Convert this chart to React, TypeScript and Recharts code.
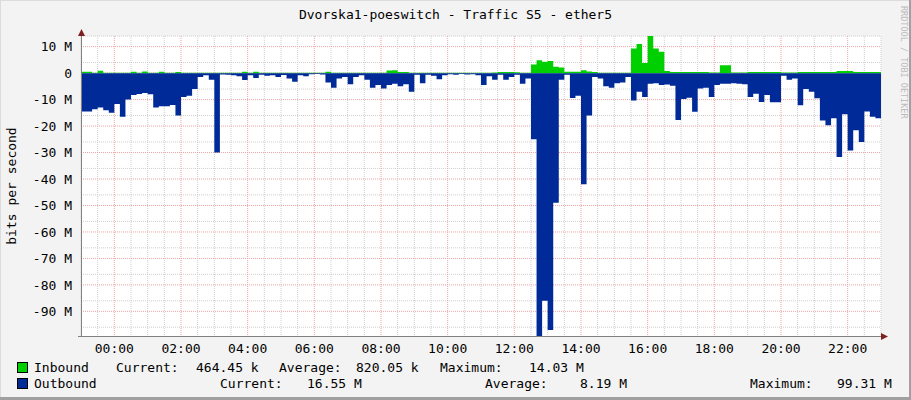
import React from 'react';
import { ComposedChart, Area, XAxis, YAxis, CartesianGrid } from 'recharts';

const MONO = '"DejaVu Sans Mono", monospace';

// 10-minute samples (Mbit/s) from 23:00 of the previous day to 23:00
const inbound = [
  0.5, 0.5, 0.1, 0.9, 0.1, 0.1,
  0.1, 0.1, 0.1, 0.5, 0.1, 0.6,
  0.1, 0.1, 0.5, 0.1, 0.1, 0.4,
  0.1, 0.1, 0.1, 0.1, 0.1, 0.1,
  0.1, 0.1, 0.1, 0.1, 0.1, 0.5,
  0.1, 0.5, 0.1, 0.1, 0.1, 0.1,
  0.1, 0.1, 0.1, 0.1, 0.1, 0.1,
  0.1, 0.1, 0.5, 0.1, 0.1, 0.1,
  0.1, 0.1, 0.1, 0.1, 0.1, 0.1,
  0.1, 1.0, 1.1, 0.4, 0.4, 0.1,
  0.1, 0.1, 0.1, 0.1, 0.1, 0.1,
  0.1, 0.1, 0.1, 0.1, 0.1, 0.1,
  0.1, 0.1, 0.2, 0.4, 0.4, 0.4,
  0.3, 0.1, 0.1, 3.3, 4.9, 4.3,
  4.6, 2.4, 2.1, 0.5, 0.5, 0.5,
  1.1, 0.6, 0.4, 0.1, 0.1, 0.1,
  0.1, 0.1, 0.1, 9.3, 11, 3.8,
  14, 9.3, 8.1, 0.8, 0.4, 0.4,
  0.4, 0.4, 0.4, 0.4, 0.4, 0.2,
  0.2, 3, 3, 0.2, 0.2, 0.2,
  0.4, 0.4, 0.4, 0.4, 0.4, 0.4,
  0.2, 0.2, 0.2, 0.4, 0.4, 0.4,
  0.4, 0.4, 0.4, 0.4, 0.8, 0.8,
  0.8, 0.45, 0.45, 0.45, 0.45, 0.45,
  0.46,
];

const outbound = [
  -14.5, -14.5, -13.6, -13, -14, -15,
  -11.7, -16.5, -10, -8.3, -7.9, -7.5,
  -8, -13, -12.5, -12.5, -12, -16,
  -9, -8.5, -6, -1.5, -0.8, -2.5,
  -30, -0.5, -0.6, -0.8, -1.2, -2.6,
  -0.8, -1.8, -0.6, -1, -0.8, -1.5,
  -0.7, -2, -3.3, -0.8, -1.2, -0.4,
  -0.3, -0.5, -3.5, -5.5, -2, -1.5,
  -4.2, -1.5, -0.8, -2.5, -5.5, -4.5,
  -5.8, -4.5, -4, -5, -4.2, -7,
  -0.6, -3.8, -0.6, -1, -2.3, -0.8,
  -0.4, -0.6, -0.3, -0.5, -0.4, -0.8,
  -4.5, -1.2, -2.5, -0.6, -2.5, -1.5,
  -0.6, -4, -2, -25, -99.3, -86,
  -97, -49, -2.5, -0.6, -9.4, -8.5,
  -42, -16, -1.5, -2, -5, -5.5,
  -3.8, -3.5, -1.5, -10.3, -7, -9,
  -4, -3.8, -4.5, -4.3, -4.8, -17.7,
  -9.8, -9.3, -14.6, -5.8, -5.5, -9,
  -4.5, -4, -4, -3.8, -4, -4.2,
  -9, -7.8, -10.9, -8.3, -11, -11,
  -1, -2.5, -2, -12.1, -6, -7,
  -9.5, -17.9, -19.7, -17, -31.7, -15.5,
  -29.2, -21.6, -26, -14.5, -16.5, -17,
  -16.55,
];

const hourTicks = [0, 2, 4, 6, 8, 10, 12, 14, 16, 18, 20, 22];
const hourLabels = ['00:00', '02:00', '04:00', '06:00', '08:00', '10:00', '12:00', '14:00', '16:00', '18:00', '20:00', '22:00'];
const valueTicks = [10, 0, -10, -20, -30, -40, -50, -60, -70, -80, -90];

const seriesNames = ['Inbound', 'Outbound'];
const seriesColors = ['#00CF00', '#002A97'];
const currentValues = ['464.45 k', '16.55 M'];
const averageValues = ['820.05 k', '8.19 M'];
const maximumValues = ['14.03 M', '99.31 M'];

const data = outbound.map((out, i) => ({ t: -1 + i / 6, inb: inbound[i], out }));

// grid helpers
const minorH = Array.from({ length: 57 }, (_, i) => -98 + i * 2);
const minorV = Array.from({ length: 49 }, (_, i) => -1 + i * 0.5);

// legend column starts per row: label, current, value, average, value, maximum, value
const legendCols = [
  [34, 116, 196, 279, 356, 440, 529],
  [34, 220, 307, 485, 580, 750, 837],
];
const legendBase = [372, 388];

export default function App() {
  return (
    <div style={{ position: 'absolute', left: 0, top: 0, width: 911, height: 400, background: '#F3F3F3', overflow: 'hidden' }}>
      <ComposedChart width={911} height={400} data={data} margin={{ top: 36, right: 30, left: 0, bottom: 0 }}>
        <CartesianGrid
          fill="#FFFFFF"
          stroke="#CFCFCF"
          strokeDasharray="1 1"
          horizontalValues={minorH}
          verticalValues={minorV}
        />
        <CartesianGrid
          stroke="#F0A4A4"
          strokeDasharray="1 1"
          horizontalValues={valueTicks}
          verticalValues={hourTicks}
        />
        <XAxis
          type="number"
          dataKey="t"
          domain={[-1, 23]}
          allowDataOverflow
          ticks={hourTicks}
          tickFormatter={(v) => hourLabels[hourTicks.indexOf(v)]}
          height={64}
          tickSize={0}
          tickMargin={8}
          axisLine={false}
          tick={{ fill: '#000', fontSize: 13, fontFamily: MONO }}
        />
        <YAxis
          type="number"
          domain={[-99.31, 14.03]}
          allowDataOverflow
          ticks={valueTicks}
          tickFormatter={(v) => (v === 0 ? '0' : `${v} M`)}
          width={81}
          tickSize={0}
          tickMargin={9}
          axisLine={false}
          tick={{ fill: '#000', fontSize: 13, fontFamily: MONO }}
        />
        <Area
          type="stepAfter"
          dataKey="inb"
          baseValue={0}
          stroke="none"
          fill={seriesColors[0]}
          fillOpacity={1}
          isAnimationActive={false}
        />
        <Area
          type="stepAfter"
          dataKey="out"
          baseValue={0}
          stroke="none"
          fill={seriesColors[1]}
          fillOpacity={1}
          isAnimationActive={false}
        />
      </ComposedChart>

      <svg width={911} height={400} style={{ position: 'absolute', left: 0, top: 0, pointerEvents: 'none' }}>
        {/* frame shades */}
        <rect x={0} y={0} width={911} height={1} fill="#DCDCDC" />
        <rect x={0} y={0} width={1} height={400} fill="#DCDCDC" />
        <rect x={0} y={397} width={911} height={3} fill="#A0A0A0" />
        <rect x={909} y={0} width={2} height={400} fill="#A0A0A0" />

        <text x={455.5} y={18.5} textAnchor="middle" fontFamily={MONO} fontSize={13} fill="#000">
          Dvorska1-poeswitch - Traffic S5 - ether5
        </text>
        <text
          x={0}
          y={0}
          transform="translate(16 186) rotate(-90)"
          textAnchor="middle"
          fontFamily={MONO}
          fontSize={13}
          fill="#000"
        >
          bits per second
        </text>
        <text
          x={0}
          y={0}
          transform="translate(901 6) rotate(90)"
          fontFamily={MONO}
          fontSize={8.5}
          fill="#BBBBBB"
        >
          RRDTOOL / TOBI OETIKER
        </text>

        {/* axes with arrows */}
        <line x1={81.5} y1={336} x2={81.5} y2={32} stroke="#808080" strokeWidth={1} />
        <line x1={78} y1={336.5} x2={884} y2={336.5} stroke="#808080" strokeWidth={1} />
        <polygon points="78,36 85,36 81.5,29" fill="#7F1F1F" />
        <polygon points="881,333 881,340 888,336.5" fill="#7F1F1F" />

        {/* legend */}
        {seriesNames.map((name, r) => {
          const c = legendCols[r];
          const y = legendBase[r];
          return (
            <g key={name} fontFamily={MONO} fontSize={13} fill="#000">
              <rect x={17.5} y={y - 9.5} width={10} height={10} fill={seriesColors[r]} stroke="#000" strokeWidth={1} />
              <text x={c[0]} y={y}>{name}</text>
              <text x={c[1]} y={y}>Current:</text>
              <text x={c[2]} y={y}>{currentValues[r]}</text>
              <text x={c[3]} y={y}>Average:</text>
              <text x={c[4]} y={y}>{averageValues[r]}</text>
              <text x={c[5]} y={y}>Maximum:</text>
              <text x={c[6]} y={y}>{maximumValues[r]}</text>
            </g>
          );
        })}
      </svg>
    </div>
  );
}
